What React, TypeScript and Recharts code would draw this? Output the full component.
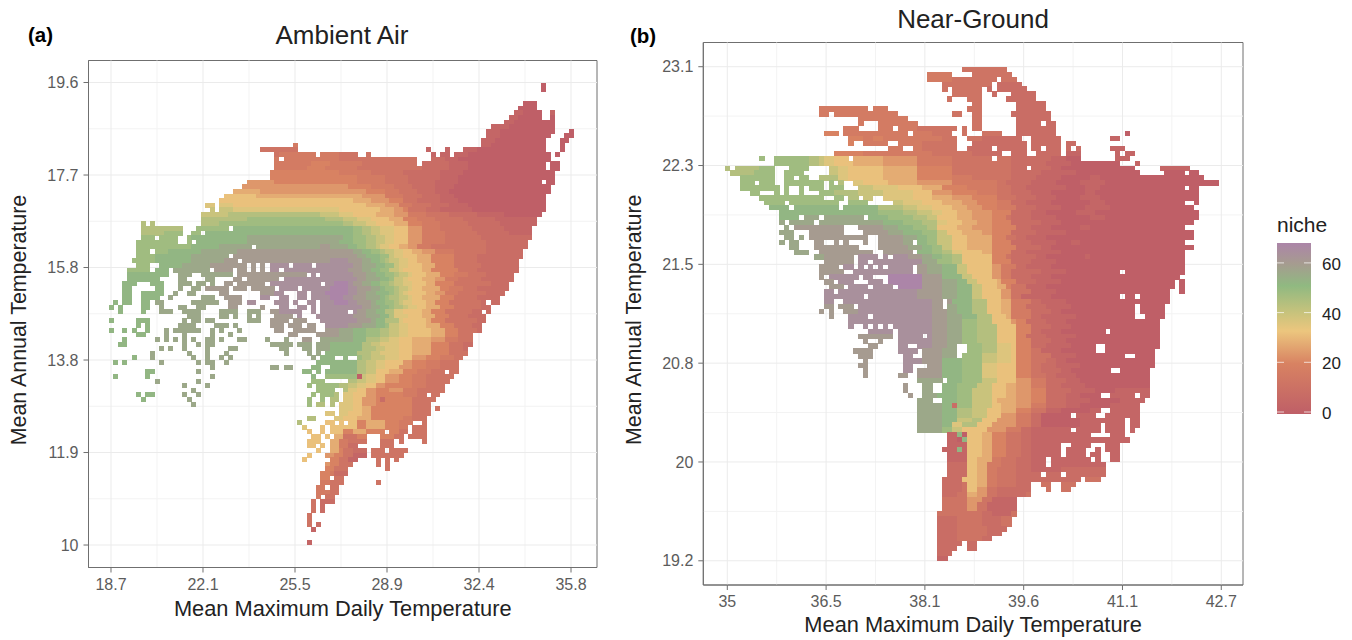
import React from "react";
import { ReferenceArea, ReferenceLine, Scatter, ScatterChart, XAxis, YAxis } from "recharts";

// Each row is one temperature bin, top to bottom. A token "col:level" starts a run
// of cells that lasts until the next token. "_" means an empty bin, levels are base 36 (niche = level * 4).
const ambientRows = [
  "94:0 95:_",
  "94:0 95:_",
  "",
  "",
  "90:0 93:_",
  "89:0 93:_",
  "88:1 90:0 94:_ 96:1 97:_",
  "87:1 89:0 94:_ 96:0 97:_",
  "86:1 88:0 97:_",
  "83:1 87:0 97:_",
  "82:1 85:0 97:_ 100:0 101:_",
  "82:1 85:0 96:_ 99:0 101:_",
  "81:1 84:0 95:_ 98:0 100:_",
  "40:4 41:_ 81:1 83:0 95:_ 98:0 99:_",
  "33:3 41:_ 69:1 70:_ 73:1 74:_ 77:1 80:0 95:_ 98:0 99:_",
  "36:3 37:4 45:_ 46:4 50:3 54:_ 56:3 57:_ 70:1 71:_ 72:1 74:_ 75:1 78:0 96:_ 97:0 98:_",
  "36:4 37:_ 38:4 50:3 67:_ 70:2 73:1 76:0 96:_",
  "36:4 44:5 48:4 55:3 67:_ 68:2 74:1 78:0 95:_ 96:0 98:_",
  "36:4 43:5 47:4 54:3 68:2 74:1 78:0 95:_ 96:0 98:_",
  "35:5 50:4 57:3 64:2 72:1 77:0 97:_",
  "35:5 54:4 60:3 65:2 72:1 76:0 97:_",
  "30:6 36:5 54:4 60:3 65:2 71:1 76:0 94:_ 95:0 97:_",
  "29:6 36:6 52:5 57:4 62:3 66:2 71:1 75:0 96:_",
  "27:7 33:6 52:6 56:5 60:4 63:3 67:2 71:1 74:0 96:_",
  "25:8 32:7 50:7 55:6 60:4 64:3 68:2 72:1 75:0 95:_",
  "24:8 48:8 53:7 57:6 61:5 64:3 67:2 72:1 76:0 95:_",
  "21:9 23:_ 24:9 27:8 46:8 52:8 56:7 60:6 63:4 66:3 70:2 74:1 78:0 95:_",
  "22:a 23:_ 24:a 27:9 44:9 50:8 57:8 59:7 62:6 64:5 65:3 69:2 72:1 79:0 95:_",
  "20:a 26:b 40:b 46:a 50:9 53:8 58:7 62:6 65:4 69:3 74:2 80:1 86:0 94:_",
  "20:b 30:c 42:c 47:b 51:a 54:9 57:8 61:7 64:5 67:4 71:3 77:2 84:1 93:_",
  "7:b 8:_ 9:b 10:_ 20:b 24:c 46:c 51:b 53:a 56:9 58:8 62:7 65:5 68:4 72:3 78:2 85:1 93:_",
  "7:b 16:_ 19:c 26:_ 27:d 45:d 53:c 55:b 57:a 59:9 62:8 65:6 68:4 72:3 79:2 86:1 92:_",
  "7:b 12:c 16:_ 18:c 20:_ 21:d 46:d 53:c 55:b 57:a 59:9 62:8 65:6 68:4 73:3 80:2 87:1 92:_",
  "7:c 10:_ 11:c 15:_ 17:c 18:d 30:e 46:e 51:d 53:c 56:b 58:a 60:9 62:8 65:6 68:4 73:3 81:2 92:_",
  "6:c 15:_ 17:c 18:_ 19:d 30:e 46:e 50:d 53:c 56:b 58:a 60:9 62:8 65:6 68:4 73:3 82:2 91:_",
  "6:c 18:d 24:e 31:_ 32:e 46:f 48:e 52:d 54:c 56:b 58:a 59:9 61:8 63:7 65:6 67:4 70:3 82:2 91:_",
  "6:c 9:_ 10:c 13:d 20:e 28:f 53:e 55:d 57:c 59:b 60:a 62:9 64:8 66:7 68:6 71:4 75:3 82:2 90:_",
  "6:c 10:d 18:e 26:_ 27:f 54:e 56:d 59:c 61:a 62:9 64:8 67:7 70:5 75:3 80:2 90:_",
  "5:c 10:d 18:e 25:f 28:_ 29:f 48:g 52:f 55:e 57:d 59:c 60:b 61:a 63:9 65:8 67:7 70:5 75:3 80:2 89:_",
  "6:c 9:_ 11:d 16:e 22:f 30:_ 31:f 32:_ 33:f 34:_ 35:g 39:_ 40:g 44:_ 45:g 53:f 55:e 58:d 60:c 62:a 63:9 65:8 68:7 71:5 75:3 81:2 89:_",
  "4:c 9:_ 10:d 13:_ 14:e 22:_ 23:f 27:_ 28:f 30:_ 31:f 32:_ 33:f 34:_ 35:g 37:_ 38:g 52:f 55:e 57:d 59:c 61:a 63:9 64:8 68:7 70:5 76:3 80:2 89:_",
  "4:d 13:_ 15:e 18:_ 20:e 27:_ 28:f 43:_ 44:g 45:_ 46:g 53:f 56:e 58:d 60:c 62:b 63:a 65:9 66:8 69:7 72:5 75:4 78:3 82:2 88:_",
  "4:d 11:_ 15:e 17:_ 21:e 23:_ 27:f 29:_ 30:f 37:_ 38:g 54:f 56:e 59:d 61:c 62:a 64:9 65:8 68:7 71:6 73:4 76:3 81:2 88:_",
  "3:d 6:_ 9:d 12:_ 15:e 18:_ 19:e 21:_ 22:e 23:_ 25:f 27:_ 28:f 34:_ 35:g 46:_ 47:g 49:h 52:g 53:f 55:e 57:d 59:c 61:b 62:a 64:9 66:8 69:7 71:5 75:3 83:2 87:_",
  "3:d 5:_ 10:d 12:_ 15:e 16:_ 18:e 20:_ 21:f 26:_ 27:f 30:_ 31:f 36:_ 37:g 41:_ 42:g 48:h 52:g 54:f 57:e 59:d 60:c 62:b 63:a 65:9 66:8 68:7 72:5 74:4 77:3 80:2 87:_",
  "3:d 5:_ 7:d 12:_ 14:e 15:_ 17:e 19:_ 24:f 26:_ 33:f 36:g 38:_ 41:g 43:_ 44:g 47:h 52:g 54:f 56:e 58:d 61:c 62:b 63:a 64:9 65:8 69:7 71:6 73:4 76:3 82:2 86:_",
  "3:d 5:_ 7:d 11:_ 13:e 14:_ 20:e 23:_ 25:f 29:_ 33:g 35:_ 37:g 39:_ 41:g 43:_ 44:g 48:h 51:g 53:f 56:e 59:d 60:c 61:b 63:a 65:9 66:8 68:7 72:5 75:3 80:2 85:_",
  "1:d 2:_ 3:d 5:_ 7:d 9:_ 10:e 12:_ 18:e 24:_ 26:f 29:_ 30:g 32:_ 36:g 39:_ 40:g 41:_ 43:g 45:_ 46:g 49:h 52:g 54:f 57:e 58:d 60:c 62:b 63:a 64:9 66:8 69:7 71:5 74:3 81:2 82:_ 83:2 85:_",
  "0:d 1:_ 2:d 3:_ 7:d 9:_ 11:e 12:_ 15:e 17:_ 19:e 21:_ 26:f 28:_ 33:f 34:_ 37:g 39:_ 41:g 43:_ 44:g 45:_ 46:g 55:f 57:e 59:d 61:c 62:b 64:a 65:9 67:8 69:7 72:5 75:3 81:2 83:_",
  "2:d 3:_ 7:d 8:_ 11:e 14:_ 16:e 20:_ 24:e 28:_ 30:e 33:_ 35:f 37:g 42:_ 44:g 45:_ 46:g 52:_ 53:g 54:f 56:e 58:d 60:b 62:9 64:8 68:7 70:5 73:3 79:2 81:_ 82:2 83:_",
  "17:e 20:_ 24:e 26:_ 27:e 28:_ 30:e 31:_ 32:e 33:_ 36:f 40:_ 41:g 42:_ 45:g 53:f 56:e 59:d 61:b 62:9 65:8 68:7 71:5 74:3 78:2 82:_",
  "0:d 1:_ 6:d 9:_ 16:e 17:_ 18:e 20:_ 21:e 23:_ 30:e 33:_ 35:f 39:_ 40:f 43:_ 46:g 54:f 57:e 58:d 60:b 63:9 64:8 69:7 70:5 73:3 80:2 82:_",
  "6:d 7:_ 8:d 9:_ 15:e 19:_ 23:e 26:_ 27:e 28:_ 35:f 38:_ 39:f 42:_ 43:f 45:_ 47:g 52:f 55:e 58:d 60:c 61:a 63:9 65:8 69:7 72:5 75:3 79:2 81:_",
  "0:d 1:_ 3:d 4:_ 5:d 6:_ 8:d 9:_ 12:e 13:_ 14:e 20:_ 22:e 23:_ 24:e 25:_ 28:e 29:_ 36:f 38:_ 40:f 45:_ 47:f 50:e 53:d 56:c 59:b 61:a 63:9 65:8 70:7 73:5 76:3 80:2 81:_",
  "6:d 8:_ 12:e 13:_ 16:e 17:_ 22:e 23:_ 26:e 27:_ 39:f 41:_ 45:f 50:e 53:d 56:c 59:b 61:a 63:9 65:8 70:7 73:5 76:3 79:_",
  "3:d 4:_ 10:e 11:_ 12:e 13:_ 14:e 15:_ 16:e 17:_ 18:e 19:_ 21:e 23:_ 24:e 25:_ 28:e 30:_ 34:e 35:_ 38:e 39:_ 42:f 44:_ 46:e 53:d 56:b 59:a 61:9 63:8 66:7 70:6 73:4 76:3 79:_",
  "2:d 4:_ 16:e 17:_ 19:e 20:_ 21:e 23:_ 35:e 40:_ 41:e 44:_ 45:e 48:d 55:b 57:a 59:9 63:8 66:7 70:5 74:3 77:2 79:_",
  "11:e 12:_ 13:e 14:_ 16:e 17:_ 21:e 22:_ 26:e 28:_ 37:e 39:_ 42:e 44:_ 45:e 48:d 55:b 58:a 60:9 63:8 66:7 70:5 74:3 77:2 78:_",
  "9:e 10:_ 17:e 18:_ 21:e 22:_ 25:e 26:_ 38:e 39:_ 43:e 44:_ 45:e 46:_ 47:d 54:b 57:a 59:9 63:8 66:7 70:5 74:3 78:_",
  "5:d 6:_ 9:e 10:_ 18:e 19:_ 21:e 22:_ 24:e 25:_ 26:e 27:_ 44:e 45:_ 46:d 49:_ 51:d 52:_ 54:c 55:b 57:a 60:9 63:8 66:6 69:5 72:4 75:3 77:_",
  "1:d 2:_ 3:d 4:_ 11:e 12:_ 19:e 20:_ 21:e 23:_ 25:e 26:_ 45:d 54:b 56:a 58:9 60:8 64:6 66:5 69:4 72:3 76:_",
  "22:e 23:_ 35:e 37:_ 38:e 40:_ 44:d 46:_ 48:d 54:b 56:a 58:9 60:8 63:6 66:5 69:4 72:3 76:_",
  "8:d 10:_ 19:e 20:_ 42:d 44:_ 45:d 46:_ 47:d 54:b 56:a 58:8 61:7 64:5 67:4 70:3 73:_ 74:3 76:_",
  "1:d 2:_ 8:d 9:_ 22:e 23:_ 44:d 45:_ 47:c 54:0 55:a 56:9 58:8 60:6 63:5 66:4 69:3 75:_",
  "10:e 11:_ 19:e 20:_ 44:c 47:_ 52:b 54:a 56:9 58:8 60:6 63:5 66:4 69:3 74:_",
  "16:e 17:_ 21:e 22:_ 43:c 44:_ 45:c 50:b 52:a 54:9 56:8 58:6 60:5 66:4 69:3 73:_",
  "18:e 19:_ 45:c 49:_ 51:b 52:9 54:8 56:6 58:5 61:6 64:4 67:3 73:_",
  "6:d 7:_ 8:d 10:_ 16:e 17:_ 19:e 20:_ 44:c 45:_ 46:c 49:b 50:_ 51:9 53:8 56:6 58:5 64:4 67:3 69:_ 70:3 72:_",
  "7:d 8:_ 17:e 18:_ 43:c 44:_ 46:c 47:_ 48:b 50:_ 51:9 53:8 55:6 58:5 59:2 60:5 66:3 71:_",
  "18:e 19:_ 43:c 44:_ 45:b 47:_ 48:b 49:_ 50:9 53:8 55:6 58:5 66:3 70:_",
  "50:9 53:8 55:7 57:5 66:3 70:_ 71:3 72:_",
  "47:9 49:_ 50:9 52:8 55:7 57:5 66:3 70:_",
  "43:b 45:_ 49:9 51:8 54:7 57:5 64:4 66:3 69:_",
  "41:b 42:_ 47:8 49:_ 50:8 51:_ 52:8 54:5 56:7 60:5 63:4 66:_ 68:3 69:_",
  "42:9 43:_ 46:8 47:_ 48:8 54:5 56:7 60:5 63:4 65:_ 66:3 69:_",
  "43:8 44:_ 46:8 47:_ 48:8 51:5 53:7 56:5 60:_ 61:5 63:3 65:_ 66:3 69:_",
  "44:8 46:_ 47:8 48:_ 49:7 51:3 54:5 56:_ 59:5 62:3 64:_ 65:3 69:_",
  "43:8 46:_ 48:7 50:4 52:3 56:_ 59:3 62:_ 63:3 64:_ 68:3 69:_",
  "43:8 45:_ 46:8 47:_ 48:7 50:4 52:2 54:_ 59:3 62:_",
  "45:8 46:_ 48:7 50:5 51:3 53:2 56:_ 57:3 60:_ 61:3 65:_",
  "43:8 44:_ 47:6 49:5 51:3 53:1 56:_ 57:3 64:_",
  "42:8 43:_ 48:5 50:3 52:1 54:_ 58:3 59:_ 60:3 61:_ 62:3 63:_",
  "47:6 48:5 50:3 53:_ 58:3 59:_ 60:3 61:_",
  "47:5 49:3 52:_ 60:3 61:_",
  "46:5 48:4 49:2 52:_",
  "46:5 48:_ 49:3 51:_",
  "46:4 48:3 51:_ 58:3 59:_",
  "45:4 47:_ 48:3 50:_",
  "45:4 48:3 50:_",
  "45:4 46:_ 47:3 49:_",
  "44:3 45:_ 46:2 49:_",
  "44:3 45:_ 46:2 47:_",
  "44:3 45:_ 46:2 47:_",
  "43:3 44:_",
  "43:3 44:_",
  "43:3 44:_ 45:2 46:_",
  "44:1 45:_",
  "",
  "",
  "43:1 44:_",
];

const groundRows = [
  "48:3 57:_",
  "41:4 46:_ 50:3 58:_",
  "41:4 46:3 55:_ 56:3 59:_",
  "44:3 54:_ 55:2 60:_",
  "44:3 45:_ 46:3 52:_ 53:2 54:_ 55:2 61:_",
  "46:3 52:_ 54:2 55:_ 58:2 63:_",
  "45:3 46:_ 49:3 52:_ 57:2 63:_",
  "50:3 52:_ 59:2 65:_",
  "19:4 29:_ 30:4 33:_ 49:3 52:_ 59:2 65:_",
  "19:4 21:_ 22:4 33:_ 33:4 35:_ 46:3 48:_ 50:3 52:_ 58:2 66:_",
  "27:4 37:_ 50:3 52:_ 59:2 66:_",
  "27:4 28:_ 31:4 39:_ 50:3 52:_ 59:2 64:_ 65:2 67:_",
  "24:4 27:_ 31:4 34:_ 35:4 39:3 47:_ 48:3 49:_ 50:3 52:_ 59:2 67:_",
  "20:5 23:_ 24:4 37:_ 38:4 42:3 46:_ 48:3 49:_ 52:3 56:_ 59:2 67:_ 81:0 82:_",
  "25:5 28:4 30:5 32:4 44:3 47:_ 49:3 52:2 60:_ 62:2 68:_ 78:1 80:_",
  "25:5 26:_ 28:4 33:_ 35:4 40:3 47:_ 50:2 61:_ 62:2 68:_ 69:2 71:_",
  "33:4 36:_ 38:4 40:3 47:_ 49:2 54:_ 55:2 61:_ 62:2 64:_ 65:2 68:_ 69:2 70:_ 71:2 72:_ 78:1 81:_",
  "22:5 28:4 42:3 50:2 56:_ 58:2 61:_ 63:2 68:_ 69:1 72:_ 79:1 80:_ 81:1 83:_",
  "7:c 8:_ 10:c 17:b 19:a 20:9 22:8 25:_ 26:7 32:6 39:4 46:3 54:_ 55:3 58:2 66:1 69:0 72:_ 79:1 82:_",
  "10:c 17:b 19:a 20:9 22:8 26:7 32:6 39:4 46:3 58:2 65:1 70:0 80:_ 83:1 84:_",
  "0:b 1:_ 2:b 7:c 10:_ 13:c 17:_ 21:a 23:9 25:8 32:7 39:5 46:3 58:2 61:_ 62:2 66:1 68:0 83:_ 88:1 94:_",
  "1:b 6:c 10:_ 12:c 16:_ 21:a 23:9 25:8 32:7 39:5 46:3 58:2 64:1 71:0 84:_ 89:0 93:_ 94:0 96:_",
  "3:c 10:_ 12:c 14:_ 15:c 17:_ 19:b 23:9 25:8 32:7 39:5 46:4 50:3 58:2 63:1 68:0 74:1 76:0 97:_",
  "3:c 6:_ 7:c 10:_ 12:c 20:_ 21:c 22:_ 23:b 24:_ 26:9 28:8 33:7 39:6 46:4 55:3 57:2 62:1 67:0 72:1 77:0 100:_",
  "3:c 11:_ 12:c 13:_ 15:c 16:_ 17:c 20:_ 21:c 24:_ 27:a 30:9 35:8 40:7 44:5 49:4 55:3 58:2 61:1 69:0 73:1 76:0 93:_ 94:0 96:_",
  "5:c 7:_ 10:c 11:_ 12:c 13:_ 15:c 16:_ 19:c 22:b 27:a 32:9 38:8 42:6 46:5 51:4 55:3 58:2 62:1 66:0 73:1 75:0 96:_",
  "7:c 20:_ 22:c 24:_ 25:b 27:_ 28:a 30:_ 32:9 38:8 42:7 46:6 50:5 55:3 59:2 63:1 67:0 72:1 76:0 96:_",
  "8:c 12:_ 13:c 23:_ 25:c 29:_ 34:a 36:9 40:8 44:7 48:6 51:5 55:4 58:2 61:1 66:0 74:1 77:0 93:_ 95:0 96:_",
  "9:d 13:_ 14:d 23:_ 24:d 31:b 36:a 39:9 42:8 46:7 49:6 52:5 55:4 59:2 63:1 68:0 73:1 78:0 95:_",
  "11:d 31:c 36:b 39:a 42:9 44:8 47:7 50:6 54:5 58:2 62:1 65:0 71:1 75:0 96:_",
  "11:d 15:_ 16:e 19:_ 20:e 28:_ 29:d 33:c 38:b 41:a 43:8 47:7 50:6 54:5 57:3 58:2 62:1 67:0 74:1 77:0 96:_",
  "11:e 12:_ 13:e 18:_ 19:e 32:d 36:c 40:b 43:9 45:8 48:7 51:6 54:5 58:2 64:1 68:0 95:_",
  "12:e 13:_ 14:f 24:_ 27:f 32:e 35:d 38:c 41:b 43:8 47:7 50:6 54:5 59:2 62:1 66:0 72:1 74:0 93:_",
  "11:e 14:_ 17:f 24:_ 28:f 33:e 36:d 40:c 43:a 45:8 48:7 52:6 54:5 58:2 63:1 69:0 95:_",
  "12:e 14:_ 15:e 16:_ 17:f 29:_ 31:f 36:e 39:d 41:c 43:a 46:8 49:7 54:5 57:3 59:2 61:1 65:0 95:_",
  "11:e 12:_ 13:e 15:_ 18:f 20:_ 22:f 23:_ 24:f 25:_ 28:f 29:_ 31:f 36:e 38:_ 39:d 41:c 43:a 46:8 49:7 54:5 58:2 62:1 67:0 70:1 72:0 93:_",
  "13:e 15:_ 18:f 27:_ 31:f 37:e 40:d 42:c 44:a 46:8 49:7 54:5 59:2 64:1 66:0 95:_",
  "14:e 17:_ 19:f 30:_ 32:f 38:_ 39:d 42:c 44:b 46:9 48:8 52:7 54:5 58:2 61:1 68:0 93:_",
  "18:e 20:f 26:_ 27:g 31:_ 32:g 33:_ 34:g 37:f 40:e 42:d 44:c 46:b 48:8 54:5 57:3 58:2 63:1 65:0 73:1 74:0 93:_",
  "20:f 26:_ 27:g 29:_ 30:g 40:e 43:c 46:b 48:8 54:5 58:2 62:1 67:0 93:_",
  "19:f 23:_ 24:g 26:_ 27:g 28:_ 29:g 30:_ 31:g 32:_ 33:g 38:_ 39:f 41:e 44:d 47:a 49:8 54:6 56:4 59:2 61:1 66:0 93:_",
  "19:f 24:_ 26:g 38:_ 39:f 41:e 44:d 47:a 49:8 54:6 56:4 58:2 64:1 69:0 80:_ 81:0 93:_",
  "19:f 20:_ 21:g 27:_ 28:g 30:_ 33:h 40:f 44:d 48:a 50:8 54:6 56:4 58:2 62:1 66:0 92:_",
  "20:f 22:_ 23:g 26:_ 29:g 32:_ 33:h 40:f 44:e 47:d 49:a 51:8 55:7 56:5 59:2 63:1 68:0 91:_ 92:0 93:_",
  "21:f 24:_ 25:g 29:_ 30:g 34:_ 35:h 40:f 44:e 47:d 50:a 52:8 55:7 57:5 58:3 61:1 65:0 91:_ 92:0 93:_",
  "20:g 22:_ 23:g 39:f 44:e 47:d 50:a 52:8 56:6 58:3 62:1 67:0 90:_ 92:0 93:_",
  "20:g 28:_ 29:g 39:f 44:e 47:d 50:a 52:8 56:6 58:3 60:1 66:0 80:_ 81:0 83:_ 84:0 90:_",
  "20:g 22:_ 24:g 42:f 44:_ 45:f 46:d 50:b 53:8 56:7 58:4 62:2 64:1 69:0 90:_",
  "20:f 22:_ 23:f 26:_ 27:g 42:f 44:_ 45:e 47:d 50:b 53:8 56:7 58:4 61:2 65:1 70:0 83:_ 84:0 89:_",
  "19:f 20:_ 21:f 22:_ 24:f 27:g 42:f 45:e 47:d 50:b 53:8 56:7 58:4 62:2 66:1 68:0 83:_ 84:0 89:_",
  "21:f 22:_ 25:g 29:_ 30:g 42:f 45:e 48:d 51:b 54:8 57:7 58:4 62:2 64:1 71:0 83:_ 85:0 89:_",
  "25:g 42:f 45:e 48:c 51:b 54:8 58:6 59:5 61:2 65:1 69:0 88:_",
  "25:g 26:_ 28:g 29:_ 30:g 31:_ 32:g 33:_ 34:g 42:f 45:e 48:c 51:b 55:8 59:5 62:2 66:1 70:0 88:_",
  "29:g 34:_ 35:g 42:f 45:e 48:c 51:b 55:8 59:5 62:2 64:1 68:0 77:_ 78:0 88:_",
  "27:f 34:_ 35:g 40:_ 41:g 42:f 45:e 48:c 51:b 55:8 59:5 61:2 65:1 71:0 88:_",
  "28:f 29:_ 31:f 32:_ 35:g 42:f 45:e 48:c 51:b 55:8 59:5 62:2 66:1 69:0 88:_",
  "29:f 31:_ 35:g 37:_ 39:g 42:f 45:e 47:_ 49:c 52:b 55:9 58:8 59:5 62:2 65:1 70:0 75:_ 77:0 88:_",
  "26:f 30:_ 35:g 39:_ 40:f 44:e 47:_ 49:c 52:b 55:9 58:8 59:5 62:3 64:1 68:0 75:_ 77:0 87:_",
  "27:f 30:_ 36:g 38:_ 40:f 44:e 47:_ 48:c 52:a 55:9 58:8 59:5 62:3 66:1 71:0 81:_ 83:0 87:_",
  "28:f 29:_ 36:g 40:f 44:d 48:c 52:a 55:9 58:8 59:5 62:3 65:2 67:1 69:0 87:_",
  "27:f 29:_ 36:g 38:_ 41:f 44:d 48:c 52:9 55:8 59:5 62:3 64:2 67:1 72:0 87:_",
  "28:f 29:_ 36:g 38:_ 39:f 44:d 48:c 52:9 55:8 59:5 62:3 64:2 68:1 70:0 78:_ 80:0 86:_",
  "28:f 29:_ 35:f 37:_ 39:f 44:d 48:c 52:9 55:8 59:5 62:3 65:2 67:1 71:0 86:_",
  "39:e 44:_ 45:d 48:c 52:a 55:8 59:6 62:4 65:2 69:1 72:0 86:_",
  "36:f 37:_ 40:e 42:_ 44:d 47:c 51:a 54:8 57:7 59:6 62:4 65:2 68:1 73:0 86:_",
  "36:f 37:_ 40:e 42:_ 44:d 47:c 50:a 54:8 57:7 59:6 62:5 65:2 70:1 75:0 79:1 86:_",
  "37:f 38:_ 40:e 43:d 47:c 50:a 54:8 57:7 59:6 62:5 65:2 69:1 72:0 76:_ 78:1 83:_ 84:1 86:_",
  "39:e 42:_ 44:d 47:c 50:a 54:8 55:7 59:6 62:5 65:2 69:1 74:0 80:1 85:_",
  "39:e 44:d 46:2 47:c 50:a 54:8 56:7 59:6 62:4 65:2 69:1 72:0 78:1 84:_",
  "39:e 44:d 47:b 50:a 53:8 56:7 59:5 62:3 65:1 68:0 74:1 76:_ 78:1 84:_",
  "39:e 44:d 47:b 50:a 53:8 56:6 59:4 62:2 64:0 70:_ 71:1 75:_ 77:1 84:_",
  "39:e 44:d 47:a 50:b 52:8 55:6 59:4 62:2 64:0 72:1 81:_ 82:1 84:_",
  "39:e 44:d 46:9 48:b 51:8 54:6 59:4 62:2 64:0 72:1 76:_ 77:1 81:_ 82:1 84:_",
  "39:e 44:c 46:a 48:8 53:6 57:4 60:2 62:1 70:_ 71:1 76:_ 77:1 81:_ 82:1 83:_",
  "45:1 47:d 48:0 49:8 52:7 54:5 57:3 60:2 62:1 74:_ 78:1 81:_",
  "45:1 47:0 48:d 49:8 52:7 54:5 57:3 60:2 62:1 82:_",
  "45:1 49:8 52:7 54:5 57:3 60:2 62:1 68:_ 70:1 74:_ 77:1 80:_",
  "44:1 47:d 48:1 49:8 52:7 54:5 57:3 60:2 62:1 68:_ 69:1 73:_ 75:1 76:_ 77:1 80:_",
  "45:1 49:8 52:7 54:5 57:3 60:2 62:1 68:_ 69:1 73:_ 74:1 76:_ 78:1 80:_",
  "45:1 49:8 51:7 54:4 56:3 59:2 62:1 65:_ 66:1 74:_ 75:1 76:_ 78:1 80:_",
  "45:2 49:8 51:7 53:4 56:3 59:2 62:1 65:_ 66:1 77:_",
  "45:2 49:8 51:7 53:4 55:3 59:2 62:1 68:2 77:_",
  "45:2 49:8 51:7 53:4 55:3 59:2 64:_ 65:2 68:_ 69:2 77:_",
  "44:2 48:8 51:7 53:4 55:3 59:2 72:_ 73:3 76:_",
  "44:2 48:3 49:8 51:7 53:4 55:3 59:2 62:_ 64:3 66:_ 68:3 71:_",
  "44:2 48:3 49:8 51:6 53:3 55:2 62:_ 65:3 66:_ 68:3 70:_",
  "44:2 47:3 49:7 51:6 53:3 55:2 61:3 62:_",
  "44:3 49:6 52:3 54:1 59:_",
  "44:3 49:6 51:3 53:1 59:_",
  "44:3 49:6 51:3 53:1 59:_",
  "43:3 49:3 52:2 54:1 58:3 59:_",
  "43:2 47:3 52:2 56:3 58:_",
  "43:2 47:3 52:2 56:3 58:_",
  "43:2 47:3 53:2 57:_",
  "43:2 47:3 53:2 56:_",
  "43:2 47:3 52:2 54:_",
  "43:2 48:_ 49:2 51:_",
  "43:2 47:_ 49:2 51:_",
  "43:2 46:_",
  "43:1 45:_",
];

const tickBins = [0, 20, 40, 60, 80, 100];
const minorBins = [10, 30, 50, 70, 90];
const ambientXLabels = ["18.7", "22.1", "25.5", "28.9", "32.4", "35.8"];
const ambientYLabels = ["19.6", "17.7", "15.8", "13.8", "11.9", "10"];
const groundXLabels = ["35", "36.5", "38.1", "39.6", "41.1", "42.7"];
const groundYLabels = ["23.1", "22.3", "21.5", "20.8", "20", "19.2"];
const legendTicks = [60, 40, 20, 0];

// niche -> colour stops
const nicheStops: [number, string][] = [
  [0, "#bf5f67"],
  [20, "#d88262"],
  [33, "#ecc67e"],
  [40, "#c9c37c"],
  [51, "#90b981"],
  [60, "#a69b90"],
  [68, "#ac85a8"],
];

const font = "'Liberation Sans', Arial, sans-serif";

function hexToRgb(hex: string) {
  return [1, 3, 5].map((i) => parseInt(hex.slice(i, i + 2), 16));
}

function nicheColor(v: number) {
  for (let i = 1; i < nicheStops.length; i++) {
    const [v1, c1] = nicheStops[i];
    if (v <= v1) {
      const [v0, c0] = nicheStops[i - 1];
      const t = (v - v0) / (v1 - v0);
      const a = hexToRgb(c0);
      const b = hexToRgb(c1);
      return `rgb(${a.map((x, k) => Math.round(x + (b[k] - x) * t)).join(",")})`;
    }
  }
  return nicheStops[nicheStops.length - 1][1];
}

function parseRows(rows: string[]) {
  const cells: { col: number; row: number; niche: number }[] = [];
  rows.forEach((line, r) => {
    const tokens = line.split(" ").filter(Boolean).map((t) => t.split(":"));
    tokens.forEach(([start, level], i) => {
      if (level === "_" || i === tokens.length - 1) return;
      for (let c = Number(start); c < Number(tokens[i + 1][0]); c++) {
        cells.push({ col: c, row: r + 0.5, niche: parseInt(level, 36) * 4 });
      }
    });
  });
  return cells;
}

const axisText = { fill: "#5c5c5c", fontSize: 16, fontFamily: font };
const xLabelText = { fill: "#222", fontSize: 21.8, fontFamily: font, textAnchor: "middle" as const };
const yLabelText = { fill: "#222", fontSize: 21.4, fontFamily: font, textAnchor: "middle" as const };

function HeatPanel(props: {
  rows: string[];
  left: number;
  margin: { top: number; right: number; bottom: number; left: number };
  xDomain: [number, number];
  yDomain: [number, number];
  xLabels: string[];
  yLabels: string[];
  cellW: number;
  cellH: number;
  xHeight: number;
  yWidth: number;
}) {
  const { xDomain, yDomain } = props;
  const drawCell = (p: any) => (
    <rect
      x={p.cx - props.cellW / 2}
      y={p.cy - props.cellH / 2}
      width={props.cellW + 0.4}
      height={props.cellH + 0.4}
      shapeRendering="crispEdges"
      fill={nicheColor(p.payload.niche)}
    />
  );
  return (
    <div style={{ position: "absolute", left: props.left, top: 0 }}>
      <ScatterChart width={640} height={640} margin={props.margin}>
        <XAxis
          type="number"
          dataKey="col"
          domain={xDomain}
          allowDataOverflow
          ticks={tickBins}
          interval={0}
          height={props.xHeight}
          tick={axisText}
          tickSize={5}
          tickMargin={6}
          stroke="#6f6f6f"
          tickFormatter={(v: number) => props.xLabels[tickBins.indexOf(v)]}
          label={{ value: "Mean Maximum Daily Temperature", position: "insideBottom", offset: 0, style: xLabelText }}
        />
        <YAxis
          type="number"
          dataKey="row"
          reversed
          domain={yDomain}
          allowDataOverflow
          ticks={tickBins}
          interval={0}
          width={props.yWidth}
          tick={axisText}
          tickSize={5}
          tickMargin={5}
          stroke="#6f6f6f"
          tickFormatter={(v: number) => props.yLabels[tickBins.indexOf(v)]}
          label={{ value: "Mean Annual Temperature", angle: -90, position: "insideLeft", offset: 10, dy: 6, style: yLabelText }}
        />
        {minorBins.map((b) => (
          <ReferenceLine key={`mx${b}`} x={b} stroke="#f3f3f3" />
        ))}
        {minorBins.map((b) => (
          <ReferenceLine key={`my${b}`} y={b} stroke="#f3f3f3" />
        ))}
        {tickBins.map((b) => (
          <ReferenceLine key={`tx${b}`} x={b} stroke="#ebebeb" />
        ))}
        {tickBins.map((b) => (
          <ReferenceLine key={`ty${b}`} y={b} stroke="#ebebeb" />
        ))}
        <Scatter data={parseRows(props.rows)} shape={drawCell} isAnimationActive={false} />
        <ReferenceArea x1={xDomain[0]} x2={xDomain[1]} y1={yDomain[0]} y2={yDomain[1]} fill="none" stroke="#6f6f6f" fillOpacity={0} />
      </ScatterChart>
    </div>
  );
}

function Caption(props: { x: number; y: number; size: number; bold?: boolean; center?: boolean; color?: string; text: string }) {
  return (
    <div
      style={{
        position: "absolute",
        left: props.x,
        top: props.y - 20,
        height: 40,
        lineHeight: "40px",
        fontFamily: font,
        fontSize: props.size,
        fontWeight: props.bold ? 700 : 400,
        color: props.color || "#222",
        whiteSpace: "nowrap",
        transform: props.center ? "translateX(-50%)" : undefined,
      }}
    >
      {props.text}
    </div>
  );
}

function Legend() {
  const barTop = 243;
  const barH = 171;
  const valueY = (v: number) => 412 - v * 2.485;
  return (
    <>
      <Caption x={1277} y={225} size={21} text="niche" />
      <svg style={{ position: "absolute", left: 1277, top: barTop }} width={34} height={barH}>
        <defs>
          <linearGradient id="nicheBar" x1="0" y1="1" x2="0" y2="0">
            {nicheStops.map(([v, c]) => (
              <stop key={v} offset={`${(v / 68) * 100}%`} stopColor={c} />
            ))}
          </linearGradient>
        </defs>
        <rect width={34} height={barH} fill="url(#nicheBar)" />
        {legendTicks.map((v) => (
          <g key={v} stroke="#fff" strokeOpacity={0.7}>
            <line x1={0} x2={7} y1={valueY(v) - barTop} y2={valueY(v) - barTop} />
            <line x1={27} x2={34} y1={valueY(v) - barTop} y2={valueY(v) - barTop} />
          </g>
        ))}
      </svg>
      {legendTicks.map((v) => (
        <Caption key={v} x={1322} y={valueY(v) + 2} size={17} text={String(v)} />
      ))}
    </>
  );
}

export default function App() {
  return (
    <div style={{ position: "absolute", left: 0, top: 0, width: 1352, height: 640, background: "#fff", overflow: "hidden" }}>
      <HeatPanel
        rows={ambientRows}
        left={0}
        margin={{ top: 60.5, right: 43, bottom: 24.5, left: 8.5 }}
        xDomain={[-4.89, 105.65]}
        yDomain={[-4.76, 104.86]}
        xLabels={ambientXLabels}
        yLabels={ambientYLabels}
        cellW={4.6}
        cellH={4.625}
        xHeight={48}
        yWidth={80}
      />
      <HeatPanel
        rows={groundRows}
        left={620}
        margin={{ top: 42.5, right: 17, bottom: 8, left: 3.3 }}
        xDomain={[-4.86, 104.4]}
        yDomain={[-4.9, 104.9]}
        xLabels={groundXLabels}
        yLabels={groundYLabels}
        cellW={4.94}
        cellH={4.94}
        xHeight={47}
        yWidth={80}
      />
      <Caption x={342} y={35} size={26} center text="Ambient Air" />
      <Caption x={973} y={19} size={26} center text="Near-Ground" />
      <Caption x={28} y={35} size={20.5} bold color="#000" text="(a)" />
      <Caption x={630} y={36} size={20.5} bold color="#000" text="(b)" />
      <Legend />
    </div>
  );
}
